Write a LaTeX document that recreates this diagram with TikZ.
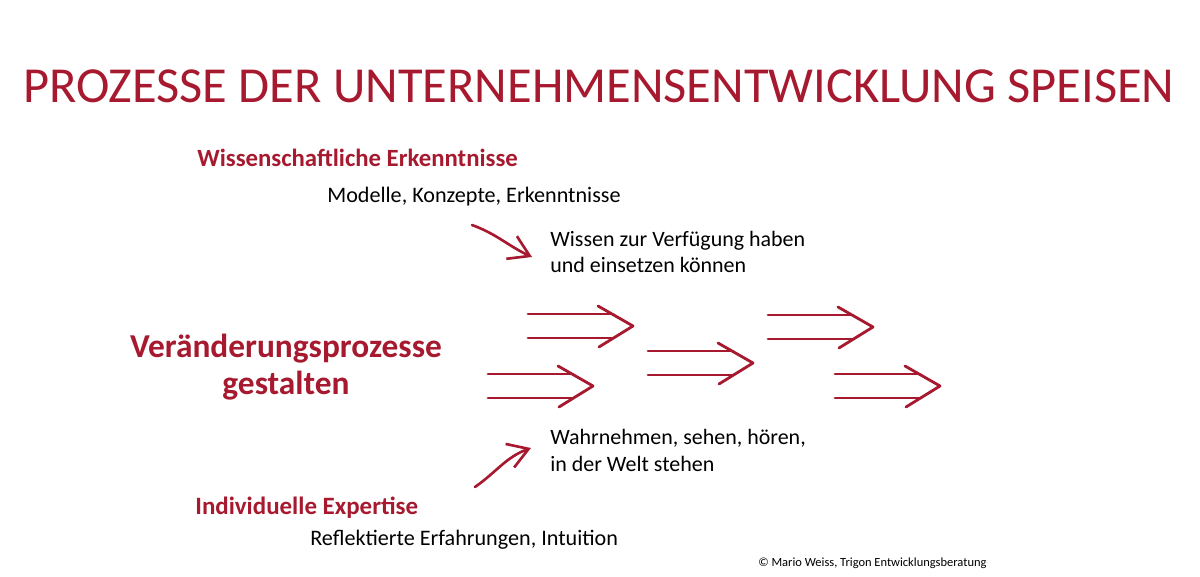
\documentclass[tikz,border=0pt]{standalone}
\usepackage{fontspec}
\setmainfont{Carlito}
\usepackage{tikz}
\usetikzlibrary{arrows.meta, positioning}
\definecolor{trigonred}{RGB}{166,25,46}

\begin{document}
\begin{tikzpicture}[x=0.02cm, y=-0.02cm,
    redtext/.style={text=trigonred, font=\bfseries},
    plain/.style={anchor=base west, inner sep=0pt, align=left},
    dbl/.style={draw=trigonred, line width=1.6pt, line cap=round, line join=round},
    curvearrow/.style={draw=trigonred, line width=1.5pt, line cap=round,
      -{Straight Barb[length=4mm, width=5mm, line width=1.5pt]}}]
    \useasboundingbox (0,0) rectangle (1200,577);
    % title
    \node (title) [anchor=base, inner sep=0pt, text=trigonred, font=\fontsize{28.7}{34}\selectfont]
      at (599,103) {PROZESSE DER UNTERNEHMENSENTWICKLUNG SPEISEN};
    % upper part
    \node (wiss) [plain, redtext, font=\fontsize{14.1}{17}\bfseries] at (197,167) {Wissenschaftliche Erkenntnisse};
    \node (mod) [plain, font=\fontsize{12.6}{15}\selectfont] at (327,203) {Modelle, Konzepte, Erkenntnisse};
    % (base of a two-line node = its last line)
    \node (wissen) [plain, font=\fontsize{12.5}{15.3}\selectfont] at (550,273) {Wissen zur Verfügung haben\\und einsetzen können};
    % middle
    \node (ver) [anchor=base, inner sep=0pt, align=center, redtext, font=\fontsize{19}{21.5}\bfseries]
      at (286,395) {Veränderungsprozesse\\gestalten};
    % lower part
    \node (wahr) [plain, font=\fontsize{12.5}{15.3}\selectfont] at (550,471) {Wahrnehmen, sehen, hören,\\in der Welt stehen};
    \node (indiv) [plain, redtext, font=\fontsize{14.2}{17}\bfseries] at (195,514) {Individuelle Expertise};
    \node (refl) [plain, font=\fontsize{12.6}{15}\selectfont] at (310,545) {Reflektierte Erfahrungen, Intuition};
    \node (copy) [plain, font=\fontsize{7.1}{8.5}\selectfont] at (758,566) {© Mario Weiss, Trigon Entwicklungsberatung};
    % curved arrows
    \coordinate (a1) at (472,225);
    \coordinate (b1) at (532,257);
    \coordinate (a2) at (475,487);
    \coordinate (b2) at (531,448);
    \draw[curvearrow] (a1) to[out=-20, in=155] (b1);
    \draw[curvearrow] (a2) to[out=35, in=200] (b2);
    % double arrows
    \foreach \tx/\ty in {633/326, 593/386, 753/363, 873/327, 940/386} {
      \draw[dbl] (\tx-105,\ty-12) -- (\tx-20,\ty-12);
      \draw[dbl] (\tx-105,\ty+12) -- (\tx-20,\ty+12);
      \draw[dbl] (\tx-35,\ty-20) -- (\tx,\ty) -- (\tx-34,\ty+21);
    }
  \end{tikzpicture}
\end{document}
